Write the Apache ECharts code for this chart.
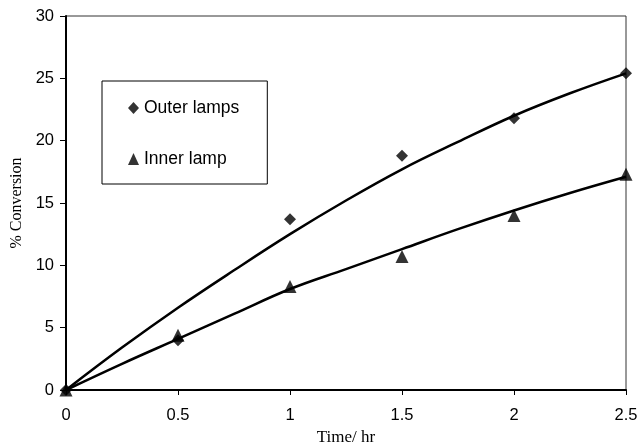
<!DOCTYPE html>
<html><head><meta charset="utf-8">
<script src="https://cdn.jsdelivr.net/npm/echarts@6/dist/echarts.min.js"></script>
<style>html,body{margin:0;padding:0;background:#fff}#c{width:640px;height:445px}</style>
</head><body><div id="c"></div>
<script>
// Measured points
const times = [0, 0.5, 1, 1.5, 2, 2.5];
const outerLamps = [0, 4.0, 13.7, 18.8, 21.8, 25.4];
const innerLamp = [0, 4.4, 8.3, 10.7, 14.0, 17.3];
// Trend curves
const fitTimes = [0, 0.25, 0.5, 0.75, 1, 1.25, 1.5, 1.75, 2, 2.25, 2.5];
const outerFit = [0, 3.4, 6.6, 9.6, 12.5, 15.2, 17.7, 19.9, 22.0, 23.8, 25.4];
const innerFit = [0, 2.1, 4.1, 6.1, 8.1, 9.7, 11.3, 12.9, 14.4, 15.8, 17.1];
const seriesNames = ['Outer lamps', 'Inner lamp'];

const pair = (xs, ys) => xs.map((x, i) => [x, ys[i]]);
const chart = echarts.init(document.getElementById('c'));
chart.setOption({
  animation: false,
  backgroundColor: '#fff',
  grid: { left: 66, right: 14, top: 16, bottom: 55, containLabel: false, outerBoundsMode: 'none',
    show: true, borderColor: '#333', borderWidth: 1, backgroundColor: 'transparent' },
  legend: {
    orient: 'vertical', left: 102, top: 81,
    data: [{ name: seriesNames[0], icon: 'diamond' }, { name: seriesNames[1], icon: 'triangle' }],
    itemWidth: 11, itemHeight: 12, itemGap: 33,
    padding: [18, 28, 16, 26],
    borderColor: '#000', borderWidth: 1,
    textStyle: { fontFamily: 'Liberation Sans, Arial, sans-serif', fontSize: 17.5, color: '#000' }
  },
  xAxis: {
    type: 'value', min: 0, max: 2.5, interval: 0.5,
    name: 'Time/ hr', nameLocation: 'middle', nameGap: 39,
    nameTextStyle: { fontFamily: 'Liberation Serif, Times New Roman, serif', fontSize: 17, color: '#000' },
    axisLine: { show: true, onZero: false, lineStyle: { color: '#000', width: 2 } },
    axisTick: { show: true, inside: false, length: 5, lineStyle: { color: '#000', width: 1 } },
    axisLabel: { margin: 17, fontFamily: 'Liberation Sans, Arial, sans-serif', fontSize: 16.5, color: '#000' },
    splitLine: { show: false }
  },
  yAxis: {
    type: 'value', min: 0, max: 30, interval: 5,
    name: '% Conversion', nameLocation: 'middle', nameGap: 40,
    nameTextStyle: { fontFamily: 'Liberation Serif, Times New Roman, serif', fontSize: 16, color: '#000' },
    axisLine: { show: true, onZero: false, lineStyle: { color: '#000', width: 2 } },
    axisTick: { show: true, inside: false, length: 6, lineStyle: { color: '#000', width: 1 } },
    axisLabel: { margin: 12, fontFamily: 'Liberation Sans, Arial, sans-serif', fontSize: 16.5, color: '#000' },
    splitLine: { show: false }
  },
  series: [
    { name: 'outer-fit', type: 'line', data: pair(fitTimes, outerFit), smooth: 0.4, showSymbol: false, symbol: 'none',
      lineStyle: { color: '#000', width: 2.5 }, z: 2, silent: true },
    { name: 'inner-fit', type: 'line', data: pair(fitTimes, innerFit), smooth: 0.4, showSymbol: false, symbol: 'none',
      lineStyle: { color: '#000', width: 2.5 }, z: 2, silent: true },
    { name: seriesNames[0], type: 'scatter', data: pair(times, outerLamps), symbol: 'diamond', symbolSize: 12,
      itemStyle: { color: '#000' }, z: 3 },
    { name: seriesNames[1], type: 'scatter', data: pair(times, innerLamp), symbol: 'triangle', symbolSize: 13,
      itemStyle: { color: '#000' }, z: 3 }
  ]
});
</script></body></html>
